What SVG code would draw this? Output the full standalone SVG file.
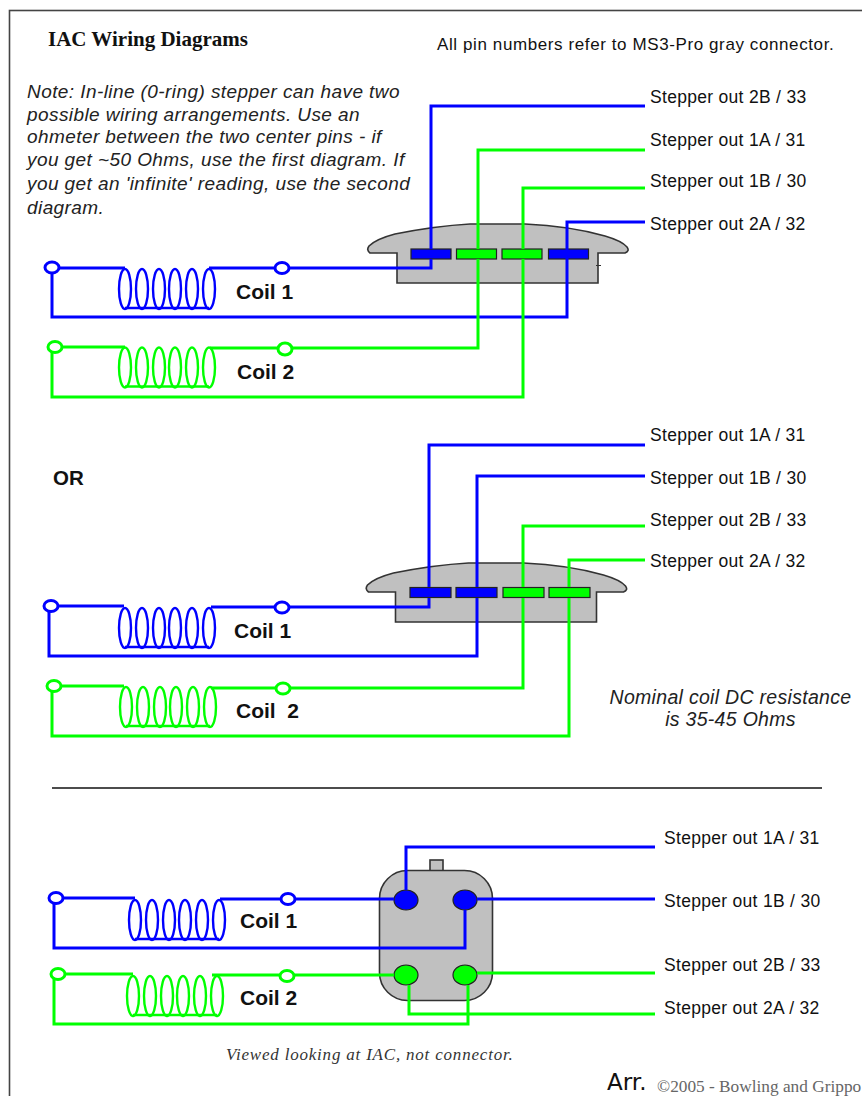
<svg xmlns="http://www.w3.org/2000/svg" width="862" height="1096" viewBox="0 0 862 1096">
<style>
.b{stroke:#0000ff}.g{stroke:#00ff00}
.w{fill:none;stroke-width:3}
.t{fill:#fff;stroke-width:3}
.loop{fill:none;stroke-width:2.4}
.gray{fill:#c0c0c0;stroke:#333;stroke-width:1.6}
.pb{fill:#0000ff;stroke:#222;stroke-width:1.2}
.pg{fill:#00ff00;stroke:#222;stroke-width:1.2}
text{font-family:"Liberation Sans",Arial,sans-serif;fill:#111}
.lab{font-size:17.5px;letter-spacing:.3px}
.coil{font-size:21px;font-weight:bold}
.note{font-size:19px;font-style:italic;fill:#222;letter-spacing:.42px}
.nom{font-size:19.5px;font-style:italic;fill:#222;letter-spacing:.3px}
.serif{font-family:"Liberation Serif","Times New Roman",serif}
</style>
<defs>
<g id="coil">
<ellipse cx="0" cy="0" rx="6" ry="20"/><ellipse cx="17" cy="0" rx="6" ry="20"/><ellipse cx="34" cy="0" rx="6" ry="20"/><ellipse cx="50" cy="0" rx="6" ry="20"/><ellipse cx="67" cy="0" rx="6" ry="20"/><ellipse cx="84" cy="0" rx="6" ry="20"/>
<path d="M0,19H84"/>
</g>
<path id="body" d="M397,253H370Q366,250 369,246Q376,239 395,234Q435,226 470,224H525Q570,226 605,236Q622,241 627,247Q630,251 625,253H598V283H397Z"/>
</defs>
<rect id="frame" x="9.5" y="10.5" width="860" height="1100" fill="#fff" stroke="#444" stroke-width="1.6"/>
<text x="48" y="46" class="serif" font-size="21" font-weight="bold">IAC Wiring Diagrams</text>
<text x="437" y="50" font-size="17" letter-spacing=".6">All pin numbers refer to MS3-Pro gray connector.</text>
<g>
<text x="27" y="98" class="note">Note: In-line (0-ring) stepper can have two</text>
<text x="27" y="121" class="note">possible wiring arrangements. Use an</text>
<text x="27" y="143" class="note">ohmeter between the two center pins - if</text>
<text x="27" y="166" class="note">you get ~50 Ohms, use the first diagram. If</text>
<text x="27" y="190" class="note">you get an 'infinite' reading, use the second</text>
<text x="27" y="214" class="note">diagram.</text>
</g>
<g id="connector-top"><use href="#body" class="gray"/><path d="M596,265.500H601" stroke="#333" stroke-width="1"/></g>
<g id="connector-mid"><use href="#body" class="gray" x="-1.5" y="339"/></g>
<g id="connector-bottom">
<rect x="430" y="860" width="13" height="11" class="gray"/>
<rect x="379.500" y="870.500" width="113" height="130" rx="28" ry="28" class="gray"/>
</g>
<g id="pins-top">
<rect x="411" y="249" width="40" height="10" class="pb"/><rect x="456.500" y="249" width="40" height="10" class="pg"/><rect x="502" y="249" width="40" height="10" class="pg"/><rect x="548.500" y="249" width="40" height="10" class="pb"/>
</g>
<g id="pins-mid">
<rect x="410" y="587.500" width="41" height="10" class="pb"/><rect x="456" y="587.500" width="41" height="10" class="pb"/><rect x="503" y="587.500" width="41" height="10" class="pg"/><rect x="549" y="587.500" width="41" height="10" class="pg"/>
</g>
<g id="pins-bottom">
<ellipse cx="406" cy="900" rx="12" ry="10" class="pb"/><ellipse cx="465" cy="900" rx="12" ry="10" class="pb"/><ellipse cx="406" cy="975" rx="12" ry="10" class="pg"/><ellipse cx="465" cy="975" rx="12" ry="10" class="pg"/>
</g>
<g id="connectors">
<path class="w b" d="M645,106H431V249M431,259V268H209M125,268H52V317H567V222H645"/>
<path class="w g" d="M645,150H478V249M478,259V348H210M125,347H52V397H523V259M523,249V188H645"/>
<path class="w b" d="M645,445H429V587M429,598V607H211M124,606H49V656H477V598M477,587V476H645"/>
<path class="w g" d="M645,526H523V587M523,598V688H211M124,686H52V736H569V598M569,587V560H645"/>
<path class="w b" d="M655,847H406V890M394,899H220M135,898H54V948H465V910M477,899H655"/>
<path class="w g" d="M394,975H212M133,974H54V1024H468V985M477,973H655M409,985V1014H655"/>
</g>
<g id="coil-1a"><use href="#coil" x="125" y="289" class="loop b"/><ellipse cx="52" cy="267.500" rx="7" ry="5.500" class="t b"/><ellipse cx="282" cy="268" rx="7" ry="5.500" class="t b"/><text x="236" y="299" class="coil">Coil 1</text></g>
<g id="coil-2a"><use href="#coil" x="125" y="367.500" class="loop g"/><ellipse cx="55" cy="347" rx="7" ry="5.500" class="t g"/><ellipse cx="285" cy="349" rx="7" ry="6" class="t g"/><text x="237" y="379" class="coil">Coil 2</text></g>
<g id="coil-1b"><use href="#coil" x="125" y="628" class="loop b"/><ellipse cx="51" cy="606" rx="7" ry="5.500" class="t b"/><ellipse cx="282" cy="607.500" rx="7" ry="5.500" class="t b"/><text x="234" y="638" class="coil">Coil 1</text></g>
<g id="coil-2b"><use href="#coil" x="126" y="707" class="loop g"/><ellipse cx="54" cy="686" rx="7" ry="5.500" class="t g"/><ellipse cx="283" cy="688.500" rx="7" ry="5.500" class="t g"/><text x="236" y="718" class="coil" xml:space="preserve">Coil  2</text></g>
<g id="coil-1c"><use href="#coil" x="135" y="920" class="loop b"/><ellipse cx="56" cy="898" rx="7" ry="5.500" class="t b"/><ellipse cx="288" cy="899" rx="7" ry="5.500" class="t b"/><text x="240" y="928" class="coil">Coil 1</text></g>
<g id="coil-2c"><use href="#coil" x="133" y="996" class="loop g"/><ellipse cx="58" cy="974" rx="7" ry="5.500" class="t g"/><ellipse cx="287" cy="976" rx="7" ry="5.500" class="t g"/><text x="240" y="1005" class="coil">Coil 2</text></g>
<g id="labels">
<text x="650" y="103" class="lab">Stepper out 2B / 33</text>
<text x="650" y="146" class="lab">Stepper out 1A / 31</text>
<text x="650" y="187" class="lab">Stepper out 1B / 30</text>
<text x="650" y="230" class="lab">Stepper out 2A / 32</text>
<text x="650" y="441" class="lab">Stepper out 1A / 31</text>
<text x="650" y="484" class="lab">Stepper out 1B / 30</text>
<text x="650" y="526" class="lab">Stepper out 2B / 33</text>
<text x="650" y="567" class="lab">Stepper out 2A / 32</text>
<text x="664" y="844" class="lab">Stepper out 1A / 31</text>
<text x="664" y="907" class="lab">Stepper out 1B / 30</text>
<text x="664" y="971" class="lab">Stepper out 2B / 33</text>
<text x="664" y="1014" class="lab">Stepper out 2A / 32</text>
</g>
<text x="53" y="485" font-size="20.500" font-weight="bold">OR</text>
<text x="730.500" y="704" text-anchor="middle" class="nom">Nominal coil DC resistance</text>
<text x="730.500" y="726" text-anchor="middle" class="nom">is 35-45 Ohms</text>
<line id="divider" x1="52" y1="788" x2="822" y2="788" stroke="#111" stroke-width="1.3"/>
<text x="226" y="1060" class="serif" font-size="17" font-style="italic" letter-spacing=".8" style="fill:#333">Viewed looking at IAC, not connector.</text>
<text x="607" y="1090" font-size="23" style="font-family:'DejaVu Sans',sans-serif">Arr.</text>
<text x="657" y="1092" class="serif" font-size="17.300" style="fill:#666">©2005 - Bowling and Grippo</text>
</svg>
